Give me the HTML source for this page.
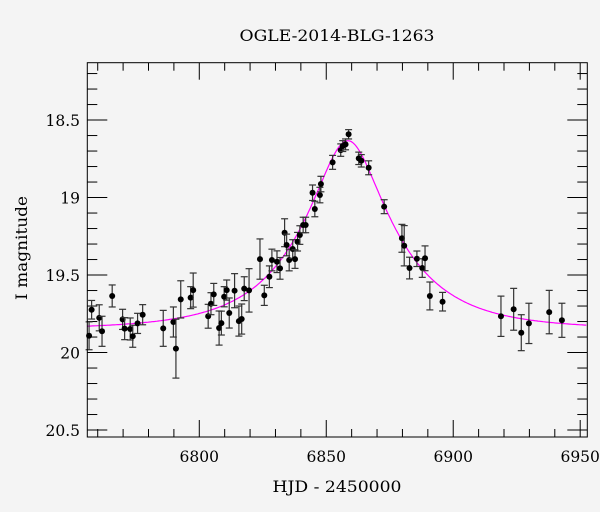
<!DOCTYPE html>
<html><head><meta charset="utf-8"><style>
html,body{margin:0;padding:0;background:#f4f4f4;}
svg{display:block;font-family:"DejaVu Serif","Liberation Serif",serif;}
</style></head><body>
<svg id="chart" width="600" height="512" viewBox="0 0 600 512">
<rect width="600" height="512" fill="#f4f4f4"/>
<text x="337" y="41" font-size="16" text-anchor="middle" textLength="195" lengthAdjust="spacingAndGlyphs">OGLE-2014-BLG-1263</text>
<text x="337" y="492" font-size="16" text-anchor="middle" textLength="129" lengthAdjust="spacingAndGlyphs">HJD - 2450000</text>
<text transform="translate(27,248) rotate(-90)" font-size="16" text-anchor="middle" textLength="104" lengthAdjust="spacingAndGlyphs">I magnitude</text>
<g id="axes"></g>
<g id="model"></g>
<g id="points"></g>
<rect x="87.3" y="62.7" width="500" height="374.3" fill="none" stroke="#000" stroke-width="1"/>
</svg>
<script>
const days=[6756.6,6757.6,6760.6,6761.7,6765.7,6769.8,6770.6,6772.8,6773.8,6775.7,6777.7,6785.8,6789.8,6790.8,6792.7,6796.6,6797.6,6803.5,6804.6,6805.7,6807.8,6808.7,6809.8,6810.8,6811.8,6813.9,6815.6,6816.7,6817.7,6819.6,6823.9,6825.6,6827.6,6828.6,6830.6,6831.8,6833.6,6834.4,6835.4,6836.8,6837.7,6838.7,6839.6,6840.9,6841.9,6844.6,6845.5,6847.5,6847.9,6852.5,6855.7,6856.5,6857.6,6858.8,6862.8,6863.8,6866.7,6872.8,6879.8,6880.7,6882.8,6885.7,6887.8,6888.9,6890.8,6895.8,6918.8,6923.8,6926.8,6929.8,6937.8,6942.8];
const mags=[19.892,19.724,19.776,19.863,19.635,19.786,19.846,19.848,19.895,19.812,19.756,19.844,19.803,19.975,19.657,19.646,19.597,19.766,19.685,19.625,19.842,19.81,19.64,19.597,19.745,19.601,19.797,19.784,19.588,19.599,19.397,19.631,19.511,19.403,19.414,19.457,19.227,19.306,19.403,19.332,19.397,19.285,19.242,19.177,19.177,18.969,19.074,18.984,18.913,18.773,18.694,18.668,18.657,18.592,18.747,18.763,18.808,19.059,19.263,19.311,19.455,19.395,19.455,19.392,19.635,19.672,19.766,19.721,19.872,19.812,19.739,19.792];
const errs=[0.09,0.06,0.084,0.097,0.071,0.065,0.071,0.071,0.071,0.065,0.065,0.116,0.097,0.19,0.12,0.071,0.11,0.077,0.071,0.071,0.11,0.077,0.065,0.065,0.097,0.11,0.097,0.097,0.077,0.14,0.13,0.065,0.07,0.07,0.07,0.07,0.09,0.07,0.07,0.06,0.06,0.06,0.06,0.05,0.05,0.05,0.05,0.05,0.05,0.045,0.04,0.035,0.035,0.03,0.04,0.04,0.045,0.045,0.09,0.13,0.07,0.05,0.06,0.08,0.09,0.06,0.13,0.135,0.116,0.13,0.14,0.11];
const xTicks=[6800,6850,6900,6950];
const yTicks=[18.5,19,19.5,20,20.5];
const model={m0:19.85,t0:6858.5,u0:0.34,tE:35.5};

const NS="http://www.w3.org/2000/svg";
const X0=87.3,X1=587.3,Y0=62.7,Y1=437;
const dMin=6755.9,dMax=6952.8,mTop=18.13,mBot=20.545;
function xs(d){return X0+(d-dMin)/(dMax-dMin)*(X1-X0);}
function ys(m){return Y0+(m-mTop)/(mBot-mTop)*(Y1-Y0);}
function mk(tag,attrs,parent){const e=document.createElementNS(NS,tag);for(const k in attrs)e.setAttribute(k,attrs[k]);parent.appendChild(e);return e;}
const axes=document.getElementById('axes');
for(let d=6760;d<=6950;d+=10){
  const major=xTicks.includes(d);const L=major?17:8;const x=xs(d);
  let t=mk('line',{x1:x,x2:x,y1:Y1,y2:Y1-L,stroke:'#000','stroke-width':1},axes);
  
  
  t=mk('line',{x1:x,x2:x,y1:Y0,y2:Y0+L,stroke:'#000','stroke-width':1},axes);
  
  
}
xTicks.forEach(v=>{
  const t=mk('text',{x:xs(v),y:462,'font-size':15.5,'text-anchor':'middle'},axes);t.textContent=String(v);
  
  
});
for(let i=0;i<=23;i++){
  const r=Math.round((18.2+i*0.1)*10)/10;const major=yTicks.some(v=>Math.abs(v-r)<1e-6);const L=major?20:10;const y=ys(r);
  let t=mk('line',{x1:X0,x2:X0+L,y1:y,y2:y,stroke:'#000','stroke-width':1},axes);
  
  
  t=mk('line',{x1:X1,x2:X1-L,y1:y,y2:y,stroke:'#000','stroke-width':1},axes);
  
  
}
yTicks.forEach(v=>{
  const t=mk('text',{x:80,y:ys(v)+6,'font-size':15.5,'text-anchor':'end'},axes);t.textContent=String(v);
  
  
});
let pts=[];
for(let d=dMin;d<=dMax;d+=0.5){
  const u=Math.sqrt(model.u0*model.u0+Math.pow((d-model.t0)/model.tE,2));
  const A=(u*u+2)/(u*Math.sqrt(u*u+4));
  pts.push(xs(d).toFixed(1)+','+ys(model.m0-2.5*Math.log10(A)).toFixed(1));
}
const ml=mk('polyline',{points:pts.join(' '),fill:'none',stroke:'#ff00ff','stroke-width':1.2},document.getElementById('model'));


const pg=document.getElementById('points');
days.forEach((d,i)=>{
  const x=xs(d),y=ys(mags[i]),yt=ys(mags[i]-errs[i]),yb=ys(mags[i]+errs[i]);
  const g=mk('g',{stroke:'#333','stroke-width':1.2},pg);
  
  
  mk('line',{x1:x,x2:x,y1:yt,y2:yb},g);
  mk('line',{x1:x-3.5,x2:x+3.5,y1:yt,y2:yt},g);
  mk('line',{x1:x-3.5,x2:x+3.5,y1:yb,y2:yb},g);
  mk('circle',{cx:x,cy:y,r:3,fill:'#000',stroke:'none'},g);
});
</script>
</body></html>
